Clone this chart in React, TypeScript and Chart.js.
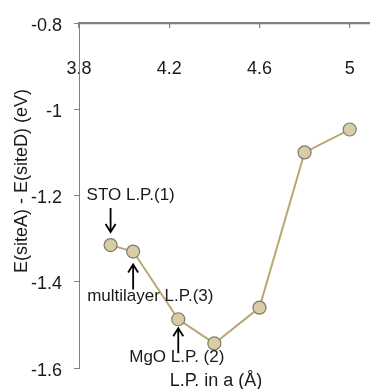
import React, { useEffect, useRef } from "react";
import { Chart, registerables } from "chart.js";

Chart.register(...registerables);

// ---- data ----
const latticeParams = [3.94, 4.04, 4.24, 4.4, 4.6, 4.8, 5.0];
const energyDiff = [-1.315, -1.33, -1.487, -1.543, -1.46, -1.1, -1.047];
const xTicks = [3.8, 4.2, 4.6, 5];
const yTicks = [-0.8, -1, -1.2, -1.4, -1.6];
const annotationLabels = ["STO L.P.(1)", "multilayer L.P.(3)", "MgO L.P. (2)"];
const annotationPointIndex = [0, 1, 2];
const xTitle = "L.P. in a (Å)";
const yTitle = "E(siteA) - E(siteD) (eV)";

// ---- styles ----
const FONT = "'Liberation Sans', Arial, Helvetica, sans-serif";
const AXIS_GRAY = "#808080";
const TEXT = "#1a1a1a";
// per-annotation layout (pixel offsets from the anchor point)
const annotationStyle = [
  { dx: -24, dy: -50, arrowFrom: -37, arrowTo: -13 },
  { dx: -46, dy: 45, arrowFrom: 38, arrowTo: 13 },
  { dx: -49, dy: 38, arrowFrom: 34, arrowTo: 9 },
];

const fmt = (v: number) => String(Number(v.toFixed(2)));

const annotationPlugin = {
  id: "annotations",
  afterDatasetsDraw(chart: any) {
    // axis lines along the chart area (top and left)
    const ctx = chart.ctx as CanvasRenderingContext2D;
    const a = chart.chartArea;
    ctx.save();
    ctx.strokeStyle = AXIS_GRAY;
    ctx.lineWidth = 1.5;
    ctx.beginPath();
    ctx.moveTo(a.left, Math.round(a.top) + 0.5);
    ctx.lineTo(a.right, Math.round(a.top) + 0.5);
    ctx.stroke();
    ctx.lineWidth = 1;
    ctx.beginPath();
    ctx.moveTo(Math.round(a.left) + 0.5, Math.round(a.bottom));
    ctx.lineTo(Math.round(a.left) + 0.5, Math.round(a.top));
    ctx.stroke();
    ctx.restore();
  },
  afterDraw(chart: any) {
    const ctx = chart.ctx as CanvasRenderingContext2D;
    const xs = chart.scales.x;
    const ys = chart.scales.y;
    ctx.save();
    ctx.fillStyle = TEXT;
    ctx.strokeStyle = "#000";
    ctx.font = `17px ${FONT}`;
    ctx.textBaseline = "middle";
    ctx.textAlign = "left";
    annotationLabels.forEach((label, i) => {
      const idx = annotationPointIndex[i];
      const st = annotationStyle[i];
      const px = xs.getPixelForValue(latticeParams[idx]);
      const py = ys.getPixelForValue(energyDiff[idx]);
      ctx.fillText(label, px + st.dx, py + st.dy);
      const y0 = py + st.arrowFrom;
      const y1 = py + st.arrowTo;
      const dir = Math.sign(y1 - y0);
      ctx.lineWidth = 1.8;
      ctx.beginPath();
      ctx.moveTo(px, y0);
      ctx.lineTo(px, y1);
      ctx.moveTo(px - 5, y1 - dir * 8);
      ctx.lineTo(px, y1);
      ctx.lineTo(px + 5, y1 - dir * 8);
      ctx.stroke();
    });
    ctx.font = `18px ${FONT}`;
    ctx.textAlign = "center";
    ctx.fillText(xTitle, 216, 381);
    ctx.translate(22, 181);
    ctx.rotate(-Math.PI / 2);
    ctx.fillText(yTitle, 0, 0);
    ctx.restore();
  },
};

export default function App() {
  const ref = useRef<HTMLCanvasElement | null>(null);
  useEffect(() => {
    if (!ref.current) return;
    const chart = new Chart(ref.current, {
      type: "line",
      data: {
        datasets: [
          {
            data: latticeParams.map((x, i) => ({ x, y: energyDiff[i] })),
            borderColor: "#b9a873",
            borderWidth: 2,
            backgroundColor: "#d9cda6",
            pointBackgroundColor: "#d9cda6",
            pointBorderColor: "#7d7b6c",
            pointBorderWidth: 1.2,
            pointRadius: 6.5,
            tension: 0,
            fill: false,
          },
        ],
      },
      options: {
        animation: false,
        responsive: false,
        layout: { autoPadding: false, padding: { left: 0, right: 0, top: 0, bottom: 21 } },
        plugins: {
          legend: { display: false },
          tooltip: { enabled: false },
        },
        scales: {
          x: {
            type: "linear",
            position: "top",
            min: 3.8,
            max: 5.09,
            afterBuildTicks: (s: any) => {
              s.ticks = xTicks.map((v) => ({ value: v }));
            },
            afterFit: (s: any) => {
              s.height = 23;
              s.paddingLeft = 0;
              s.paddingRight = 0;
            },
            ticks: {
              mirror: true,
              padding: 35,
              color: TEXT,
              font: { family: FONT, size: 18 },
              maxRotation: 0,
              autoSkip: false,
              callback: (v: any) => fmt(Number(v)),
            },
            grid: {
              drawOnChartArea: false,
              color: AXIS_GRAY,
              lineWidth: 1.2,
              tickLength: -5,
            },
            border: { color: AXIS_GRAY, width: 1.5 },
          },
          y: {
            type: "linear",
            position: "left",
            min: -1.6,
            max: -0.8,
            afterBuildTicks: (s: any) => {
              s.ticks = yTicks.map((v) => ({ value: v }));
            },
            afterFit: (s: any) => {
              s.width = 79;
              s.paddingTop = 0;
              s.paddingBottom = 0;
            },
            ticks: {
              padding: 12,
              color: TEXT,
              font: { family: FONT, size: 18, lineHeight: 0.3 },
              autoSkip: false,
              callback: (v: any) => ["", fmt(Number(v))],
            },
            grid: {
              drawOnChartArea: false,
              color: AXIS_GRAY,
              tickLength: 5,
            },
            border: { color: AXIS_GRAY, width: 1 },
          },
        },
      },
      plugins: [annotationPlugin],
    } as any);
    return () => chart.destroy();
  }, []);
  return (
    <div style={{ position: "absolute", left: 0, top: 0, width: 370, height: 389, background: "#fff" }}>
      <canvas ref={ref} width={370} height={389} style={{ display: "block", width: 370, height: 389 }} />
    </div>
  );
}
